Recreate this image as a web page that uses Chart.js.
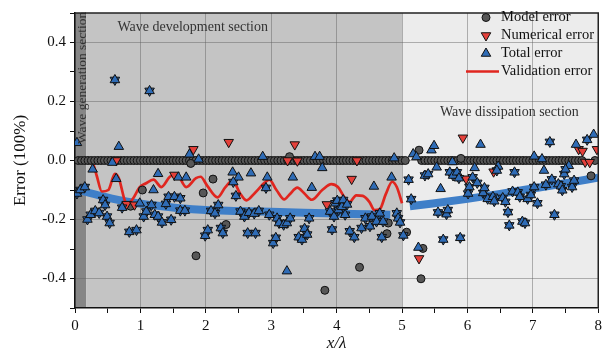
<!DOCTYPE html>
<html lang="en">
<head>
<meta charset="UTF-8">
<title>Error along the flume</title>
<script src="https://cdn.jsdelivr.net/npm/chart.js"></script>
<style>
  body { margin: 0; background: #fff; }
  .wrap { width: 606px; height: 354px; }
</style>
</head>
<body>
<div class="wrap"><canvas id="errChart" width="606" height="354"></canvas></div>
<script>
// model error: the run of points sitting on zero, plus the scattered ones
const modelZeroX = [
  0.05, 0.1, 0.15, 0.2, 0.25, 0.3, 0.35, 0.4, 0.45, 0.5,
  0.55, 0.6, 0.65, 0.7, 0.75, 0.8, 0.85, 0.9, 0.95, 1.0,
  1.05, 1.1, 1.15, 1.2, 1.25, 1.3, 1.35, 1.4, 1.45, 1.5,
  1.55, 1.6, 1.65, 1.7, 1.75, 1.8, 1.85, 1.9, 1.95, 2.0,
  2.05, 2.1, 2.15, 2.2, 2.25, 2.3, 2.35, 2.4, 2.45, 2.5,
  2.55, 2.6, 2.65, 2.7, 2.75, 2.8, 2.85, 2.9, 2.95, 3.0,
  3.05, 3.1, 3.15, 3.2, 3.25, 3.3, 3.35, 3.4, 3.45, 3.5,
  3.55, 3.6, 3.65, 3.7, 3.75, 3.8, 3.85, 3.9, 3.95, 4.0,
  4.05, 4.1, 4.15, 4.2, 4.25, 4.3, 4.35, 4.4, 4.45, 4.5,
  4.55, 4.6, 4.65, 4.7, 4.75, 4.8, 4.85, 4.9, 4.95, 5.0,
  5.05, 5.3, 5.35, 5.4, 5.45, 5.5,
  5.55, 5.6, 5.65, 5.7, 5.75, 5.8, 5.85, 5.9, 5.95, 6.0,
  6.05, 6.1, 6.15, 6.2, 6.25, 6.3, 6.35, 6.4, 6.45, 6.5,
  6.55, 6.6, 6.65, 6.7, 6.75, 6.8, 6.85, 6.9, 6.95, 7.0,
  7.05, 7.1, 7.15, 7.2, 7.25, 7.3, 7.35, 7.4, 7.45, 7.5,
  7.55, 7.6, 7.65, 7.7, 7.75, 7.95
];
const modelOutX = [1.77, 1.03, 0.85, 2.11, 1.96, 2.31, 1.85, 4.35, 3.82, 4.79, 4.77, 3.28, 5.26, 5.9, 7.89, 5.07, 5.32, 5.29];
const modelOutY = [-0.01, -0.1, -0.155, -0.063, -0.11, -0.217, -0.323, -0.362, -0.44, -0.212, -0.248, 0.013, 0.035, 0.007, -0.052, -0.243, -0.298, -0.401];

// numerical error where it differs from the total error
const numX = [0.63, 1.81, 1.52, 0.79, 0.91, 2.35, 3.36, 3.25, 3.4, 4.31, 4.23, 3.85, 5.93, 5.98, 6.4, 7.7, 7.76, 7.98, 7.8, 7.87, 5.26];
const numY = [0.0, 0.038, -0.049, -0.148, -0.15, 0.062, 0.054, 0.0, -0.001, 0.0, -0.063, -0.149, 0.077, -0.062, -0.038, 0.038, 0.032, 0.038, -0.005, -0.006, -0.332];

// total error where it differs from the numerical error
const totalX = [0.03, 0.67, 0.57, 0.27, 1.75, 1.89, 1.27, 1.58, 1.7, 0.63, 1.2, 0.99,
  2.41, 2.5, 2.69, 2.94, 2.87, 3.33, 3.67, 3.74, 3.78, 3.62, 4.57, 4.84, 4.88, 3.24,
  5.17, 5.22, 5.45, 5.49, 6.2, 7.02, 7.14, 7.66, 7.93, 5.53, 5.77, 6.11, 6.47, 7.17, 7.55, 5.59, 5.25];
const totalY = [0.06, 0.047, -0.007, -0.03, 0.021, 0.004, -0.045, -0.057, -0.057, -0.062, -0.1, -0.145,
  -0.04, -0.057, -0.043, -0.057, 0.013, -0.057, 0.013, 0.013, -0.025, -0.092, -0.088, -0.057, 0.008, -0.375,
  0.022, 0.012, 0.035, 0.05, 0.054, 0.014, 0.005, 0.054, 0.088, -0.023, -0.005, -0.025, -0.02, -0.034, -0.018, -0.096, -0.295];

// points where numerical and total error coincide (model error = 0)
const bothX = [0.61, 1.14, 0.03, 0.08, 0.15, 0.19, 0.24, 0.31, 0.37, 0.43, 0.46, 0.49, 0.53, 0.72, 0.83, 0.94,
  1.05, 1.09, 1.17, 1.22, 1.27, 1.33, 1.39, 1.43, 1.47, 1.52, 1.61, 1.61, 1.68, 1.99, 2.03, 2.08, 2.14, 2.19,
  2.23, 2.26, 2.42, 2.46, 2.53, 2.59, 2.66, 2.74, 2.81, 2.64, 2.76, 2.92, 2.97, 3.09, 3.12, 3.19, 3.03, 3.07,
  3.24, 3.29, 3.42, 3.47, 3.51, 3.55, 3.58, 3.9, 3.93, 3.96, 3.98, 4.01, 4.03, 4.08, 4.1, 4.13, 4.16, 4.2,
  4.27, 4.38, 4.44, 4.51, 4.54, 4.61, 4.66, 4.69, 4.71, 4.92, 4.94, 4.97, 5.02, 5.1, 5.14, 5.35, 5.4, 5.55,
  5.63, 5.68, 5.7, 5.73, 5.78, 5.84, 5.87, 5.89, 6.01, 6.03, 6.08, 6.15, 6.24, 6.26, 6.31, 6.39, 6.41, 6.45,
  6.54, 6.58, 6.62, 6.64, 6.69, 6.72, 6.77, 6.8, 6.84, 6.88, 6.92, 6.97, 7.02, 7.07, 7.2, 7.26, 7.29, 7.33,
  7.39, 7.43, 7.45, 7.48, 7.5, 7.6, 7.63, 7.83];
const bothY = [0.273, 0.236, -0.112, -0.1, -0.09, -0.2, -0.184, -0.171, -0.178, -0.134, -0.151, -0.19, -0.212, -0.16, -0.242, -0.236,
  -0.19, -0.173, -0.151, -0.184, -0.19, -0.21, -0.147, -0.123, -0.201, -0.123, -0.128, -0.17, -0.17, -0.255, -0.236, -0.171, -0.179, -0.151,
  -0.229, -0.246, -0.073, -0.12, -0.173, -0.19, -0.177, -0.18, -0.171, -0.246, -0.246, -0.093, -0.184, -0.196, -0.212, -0.218, -0.28, -0.262,
  -0.212, -0.196, -0.26, -0.268, -0.231, -0.251, -0.196, -0.173, -0.234, -0.19, -0.145, -0.136, -0.168, -0.157, -0.134, -0.184, -0.149, -0.24,
  -0.26, -0.229, -0.196, -0.223, -0.19, -0.207, -0.179, -0.26, -0.207, -0.179, -0.196, -0.21, -0.254, -0.065, -0.131, -0.051, -0.046, -0.176,
  -0.268, -0.182, -0.168, -0.04, -0.051, -0.04, -0.06, -0.262, -0.112, -0.09, -0.057, -0.076, -0.11, -0.093, -0.13, -0.123, -0.138, -0.034,
  -0.127, -0.14, -0.175, -0.22, -0.105, -0.04, -0.108, -0.123, -0.207, -0.212, -0.13, -0.117, -0.09, -0.145, -0.082, 0.063, -0.064, -0.184,
  -0.08, -0.087, -0.101, -0.046, -0.03, -0.09, -0.068, 0.07];

// validation error curve
const validX = [0.22, 0.26, 0.33, 0.41, 0.51, 0.61, 0.67, 0.76, 0.8, 0.89, 0.99, 1.08, 1.2, 1.32, 1.45, 1.55, 1.7,
  1.85, 1.92, 2.02, 2.18, 2.3, 2.41, 2.52, 2.62, 2.75, 2.9, 2.97, 3.08, 3.2, 3.28, 3.4, 3.5, 3.62, 3.78, 3.92,
  4.02, 4.12, 4.2, 4.3, 4.4, 4.5, 4.58, 4.66, 4.75, 4.85, 4.92, 5.0];
const validY = [-0.01, -0.005, -0.05, -0.105, -0.1, -0.045, -0.06, -0.135, -0.15, -0.128, -0.09, -0.078, -0.065, -0.09, -0.055, -0.045, -0.09,
  -0.06, -0.055, -0.085, -0.125, -0.09, -0.068, -0.11, -0.135, -0.11, -0.075, -0.065, -0.1, -0.132, -0.115, -0.092, -0.11, -0.133, -0.1, -0.08,
  -0.09, -0.125, -0.14, -0.118, -0.12, -0.14, -0.168, -0.165, -0.115, -0.072, -0.09, -0.145];

// trend bands for the two sections
const trendDevX = [0.05, 0.4, 0.8, 1.2, 1.6, 2.0, 2.5, 3.0, 3.5, 4.0, 4.5, 4.82];
const trendDevY = [-0.1, -0.12, -0.14, -0.152, -0.162, -0.168, -0.171, -0.174, -0.177, -0.18, -0.182, -0.184];
const trendDisX = [5.12, 5.5, 6.0, 6.5, 7.0, 7.5, 8.0];
const trendDisY = [-0.155, -0.145, -0.13, -0.113, -0.095, -0.077, -0.058];

const xTickLabels = ['0', '1', '2', '3', '4', '5', '6', '7', '8'];
const yTickLabels = ['-0.4', '-0.2', '0.0', '0.2', '0.4'];

const SERIF = '"Liberation Serif", "DejaVu Serif", serif';
const BLUE = '#2f6cb6';
const RED = '#e4403a';
const GREY = '#575757';

function pts(xs, ys) { return xs.map((x, i) => ({ x: x, y: ys[i] })); }

const modelPts = modelZeroX.map(x => ({ x: x, y: 0 })).concat(pts(modelOutX, modelOutY));
const numPts = pts(numX, numY).concat(pts(bothX, bothY));
const numColors = numX.map(() => RED).concat(bothX.map(() => BLUE));
const totalPts = pts(totalX, totalY).concat(pts(bothX, bothY));

// shaded sections behind the grid
const sections = {
  id: 'sections',
  beforeDraw(chart) {
    const { ctx, chartArea: a, scales: { x } } = chart;
    const bands = [[0, 0.17, '#868686'], [0.17, 5, '#c4c4c4'], [5, 8, '#ececec']];
    ctx.save();
    bands.forEach(([from, to, col]) => {
      const l = x.getPixelForValue(from), r = x.getPixelForValue(to);
      ctx.fillStyle = col;
      ctx.fillRect(l, a.top, r - l, a.bottom - a.top);
    });
    ctx.restore();
  }
};

// section names, frame and legend
const overlay = {
  id: 'overlay',
  afterDraw(chart) {
    const { ctx, chartArea: a, scales: { x, y } } = chart;
    ctx.save();
    ctx.fillStyle = '#333';
    ctx.font = '14px ' + SERIF;
    ctx.textBaseline = 'middle';
    ctx.textAlign = 'left';
    ctx.fillText('Wave development section', x.getPixelForValue(0.65), y.getPixelForValue(0.453));
    ctx.fillText('Wave dissipation section', x.getPixelForValue(5.58), y.getPixelForValue(0.163));
    ctx.save();
    ctx.translate(x.getPixelForValue(0.11), y.getPixelForValue(0.28));
    ctx.rotate(-Math.PI / 2);
    ctx.textAlign = 'center';
    ctx.font = '13.5px ' + SERIF;
    ctx.fillText('Wave generation section', 0, 0);
    ctx.restore();

    // frame on top and right
    ctx.strokeStyle = '#222';
    ctx.lineWidth = 1.5;
    ctx.beginPath();
    ctx.moveTo(a.left, a.top);
    ctx.lineTo(a.right, a.top);
    ctx.lineTo(a.right, a.bottom);
    ctx.stroke();

    // legend
    const mx = 486, tx = 501;
    const rows = [
      { label: 'Model error', style: 'circle', rot: 0, r: 4, fill: GREY },
      { label: 'Numerical error', style: 'triangle', rot: 180, r: 5.5, fill: RED },
      { label: 'Total error', style: 'triangle', rot: 0, r: 5.5, fill: BLUE },
      { label: 'Validation error', line: true }
    ];
    ctx.font = '14.5px ' + SERIF;
    rows.forEach((row, i) => {
      const yy = 17.5 + i * 18;
      if (row.line) {
        ctx.strokeStyle = '#e0261f';
        ctx.lineWidth = 2.5;
        ctx.beginPath();
        ctx.moveTo(466, yy);
        ctx.lineTo(499, yy);
        ctx.stroke();
      } else {
        ctx.fillStyle = row.fill;
        ctx.strokeStyle = '#111';
        ctx.lineWidth = 1;
        Chart.helpers.drawPoint(ctx, { pointStyle: row.style, rotation: row.rot, radius: row.r, borderWidth: 1 }, mx, yy);
      }
      ctx.fillStyle = '#111';
      ctx.fillText(row.label, tx, yy);
    });
    ctx.restore();
  }
};

const markerBase = { type: 'scatter', showLine: false, pointBorderColor: '#111', pointBorderWidth: 1 };

new Chart(document.getElementById('errChart'), {
  type: 'scatter',
  data: {
    datasets: [
      Object.assign({}, markerBase, {
        label: 'Total error', data: totalPts, order: 0,
        pointStyle: 'triangle', pointRadius: 5.5, pointBackgroundColor: BLUE
      }),
      Object.assign({}, markerBase, {
        label: 'Numerical error', data: numPts, order: 1,
        pointStyle: 'triangle', pointRotation: 180, pointRadius: 5.5, pointBackgroundColor: numColors
      }),
      Object.assign({}, markerBase, {
        label: 'Model error', data: modelPts, order: 2,
        pointStyle: 'circle', pointRadius: 4, pointBackgroundColor: GREY
      }),
      {
        label: 'Validation error', data: pts(validX, validY), order: 3,
        showLine: true, borderColor: '#e0261f', borderWidth: 2.7, pointRadius: 0,
        cubicInterpolationMode: 'monotone'
      },
      {
        label: 'trend-dev', data: pts(trendDevX, trendDevY), order: 4,
        showLine: true, borderColor: '#3f7fc8', borderWidth: 8, pointRadius: 0,
        cubicInterpolationMode: 'monotone', borderCapStyle: 'butt'
      },
      {
        label: 'trend-dis', data: pts(trendDisX, trendDisY), order: 5,
        showLine: true, borderColor: '#3f7fc8', borderWidth: 8, pointRadius: 0,
        cubicInterpolationMode: 'monotone', borderCapStyle: 'butt'
      }
    ]
  },
  options: {
    responsive: false,
    animation: false,
    devicePixelRatio: 1,
    layout: { padding: { top: 8, right: 5, left: 0, bottom: 0 } },
    plugins: { legend: { display: false }, tooltip: { enabled: false } },
    scales: {
      x: {
        type: 'linear', min: 0, max: 8,
        afterFit(s) { s.height = 46; },
        border: { color: '#111', width: 1.5 },
        grid: {
          color: c => (c.tick && Math.abs(c.tick.value % 1) < 1e-6 ? 'rgba(95,95,95,0.45)' : 'rgba(0,0,0,0)'),
          tickColor: '#111', tickLength: 5, lineWidth: 1
        },
        ticks: {
          stepSize: 0.5, padding: 4, color: '#111', maxRotation: 0, autoSkip: false,
          font: { family: SERIF, size: 15 },
          callback: v => (Math.abs(v % 1) < 1e-6 ? xTickLabels[Math.round(v)] : '')
        },
        title: {
          display: true, text: 'x/λ', color: '#111', padding: { top: 0, bottom: 0 },
          font: { family: SERIF, size: 17, style: 'italic' }
        }
      },
      y: {
        type: 'linear', min: -0.5, max: 0.5,
        afterFit(s) { s.width = 75; },
        border: { color: '#111', width: 1.5 },
        grid: {
          color: c => (c.tick && Math.round(c.tick.value * 10) % 2 === 0 ? 'rgba(95,95,95,0.45)' : 'rgba(0,0,0,0)'),
          tickColor: '#111', tickLength: 5, lineWidth: 1
        },
        ticks: {
          stepSize: 0.1, padding: 4, color: '#111', autoSkip: false,
          font: { family: SERIF, size: 15 },
          callback: v => {
            const k = Math.round(v * 10);
            return k % 2 === 0 && Math.abs(k) <= 4 ? yTickLabels[k / 2 + 2] : '';
          }
        },
        title: {
          display: true, text: 'Error (100%)', color: '#111', padding: { top: 10, bottom: 0 },
          font: { family: SERIF, size: 17 }
        }
      }
    }
  },
  plugins: [sections, overlay]
});
</script>
</body>
</html>
